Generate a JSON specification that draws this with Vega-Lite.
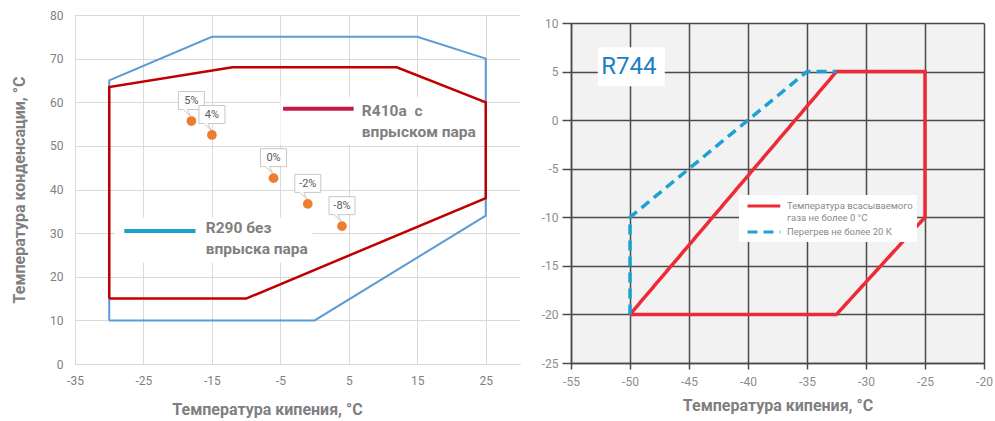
{
  "$schema": "https://vega.github.io/schema/vega-lite/v6.json",
  "padding": {"left": 11, "top": 9, "right": 5, "bottom": 5},
  "spacing": 21,
  "config": {"font": "Roboto", "view": {"stroke": null}},
  "resolve": {
    "scale": {"color": "independent", "strokeDash": "independent"},
    "legend": {"color": "independent", "strokeDash": "independent"}
  },
  "datasets": {
    "left": [
      {"g": "R290", "i": 0, "x": -30, "y": 10},
      {"g": "R290", "i": 1, "x": -30, "y": 65},
      {"g": "R290", "i": 2, "x": -15, "y": 75},
      {"g": "R290", "i": 3, "x": 15, "y": 75},
      {"g": "R290", "i": 4, "x": 25, "y": 70},
      {"g": "R290", "i": 5, "x": 25, "y": 34},
      {"g": "R290", "i": 6, "x": 0, "y": 10},
      {"g": "R290", "i": 7, "x": -30, "y": 10},
      {"g": "R410a", "i": 0, "x": -30, "y": 15},
      {"g": "R410a", "i": 1, "x": -30, "y": 63.5},
      {"g": "R410a", "i": 2, "x": -12, "y": 68},
      {"g": "R410a", "i": 3, "x": 12, "y": 68},
      {"g": "R410a", "i": 4, "x": 25, "y": 60},
      {"g": "R410a", "i": 5, "x": 25, "y": 38},
      {"g": "R410a", "i": 6, "x": -10, "y": 15},
      {"g": "R410a", "i": 7, "x": -30, "y": 15}
    ],
    "lab": [
      {"g": "R410a", "label": "R410a\u00a0 с|впрыском пара", "x1": -4.6, "x2": 5.7, "ly": 58.5, "tx": 6.9, "ty": 59.5, "bx1": -5, "bx2": 24.2, "by1": 61.2, "by2": 50.2},
      {"g": "R290", "label": "R290 без|впрыска пара", "x1": -27.8, "x2": -17.4, "ly": 30.5, "tx": -15.9, "ty": 32.8, "bx1": -29.15, "bx2": -0.35, "by1": 33.5, "by2": 23.2}
    ],
    "pts": [
      {"x": -18, "y": 55.7, "label": "5%"},
      {"x": -15, "y": 52.5, "label": "4%"},
      {"x": -6, "y": 42.6, "label": "0%"},
      {"x": -1, "y": 36.7, "label": "-2%"},
      {"x": 4, "y": 31.6, "label": "-8%"}
    ],
    "right": [
      {"series": "Температура всасываемого|газа не более 0 °C", "i": 0, "x": -50, "y": -20},
      {"series": "Температура всасываемого|газа не более 0 °C", "i": 1, "x": -32.5, "y": 5},
      {"series": "Температура всасываемого|газа не более 0 °C", "i": 2, "x": -25, "y": 5},
      {"series": "Температура всасываемого|газа не более 0 °C", "i": 3, "x": -25, "y": -10},
      {"series": "Температура всасываемого|газа не более 0 °C", "i": 4, "x": -32.5, "y": -20},
      {"series": "Температура всасываемого|газа не более 0 °C", "i": 5, "x": -50, "y": -20},
      {"series": "Перегрев не более 20 К", "i": 0, "x": -50, "y": -20},
      {"series": "Перегрев не более 20 К", "i": 1, "x": -50, "y": -10},
      {"series": "Перегрев не более 20 К", "i": 2, "x": -35, "y": 5},
      {"series": "Перегрев не более 20 К", "i": 3, "x": -32.5, "y": 5}
    ],
    "r744": [{"x": -50.1, "y": 5.5, "label": "R744"}]
  },
  "hconcat": [
    {
      "width": 445,
      "height": 349,
      "encoding": {
        "x": {
          "field": "x", "type": "quantitative",
          "scale": {"domain": [-35, 30], "nice": false, "zero": false},
          "axis": {
            "values": [-35, -25, -15, -5, 5, 15, 25],
            "labelExpr": "'' + datum.value", "labelFlush": false,
            "grid": true, "gridColor": "#d9d9d9", "gridWidth": 1,
            "domainColor": "#d9d9d9", "ticks": false,
            "labelPadding": 11, "labelColor": "#808080", "labelFontSize": 12,
            "title": "Температура кипения, °C", "titleFontSize": 16, "titleFontWeight": "bold",
            "titleColor": "#7f7f7f", "titlePadding": 15, "titleX": 192
          }
        },
        "y": {
          "field": "y", "type": "quantitative",
          "scale": {"domain": [0, 80], "nice": false},
          "axis": {
            "values": [0, 10, 20, 30, 40, 50, 60, 70, 80], "labelFlush": false,
            "grid": true, "gridColor": "#d9d9d9", "gridWidth": 1,
            "domainColor": "#d9d9d9", "ticks": false,
            "labelPadding": 12, "labelColor": "#808080", "labelFontSize": 12,
            "title": "Температура конденсации, °C", "titleFontSize": 16, "titleFontWeight": "bold",
            "titleColor": "#7f7f7f", "titlePadding": 22
          }
        }
      },
      "layer": [
        {
          "data": {"name": "lab"},
          "mark": {"type": "rect", "color": "white", "opacity": 1},
          "encoding": {
            "x": {"field": "bx1", "type": "quantitative"},
            "x2": {"field": "bx2"},
            "y": {"field": "by1", "type": "quantitative"},
            "y2": {"field": "by2"}
          }
        },
        {
          "data": {"name": "left"},
          "transform": [{"filter": "datum.g == 'R290'"}],
          "mark": {"type": "line", "strokeWidth": 2, "color": "#5b9bd5"},
          "encoding": {"order": {"field": "i"}}
        },
        {
          "data": {"name": "left"},
          "transform": [{"filter": "datum.g == 'R410a'"}],
          "mark": {"type": "line", "strokeWidth": 2.5, "color": "#c00000"},
          "encoding": {"order": {"field": "i"}}
        },
        {
          "data": {"name": "lab"},
          "mark": {"type": "rule", "strokeWidth": 4},
          "encoding": {
            "x": {"field": "x1", "type": "quantitative"},
            "x2": {"field": "x2"},
            "y": {"field": "ly", "type": "quantitative"},
            "color": {
              "field": "g", "type": "nominal",
              "scale": {"domain": ["R290", "R410a"], "range": ["#1aa3cc", "#c8174b"]},
              "legend": null
            }
          }
        },
        {
          "data": {"name": "lab"},
          "mark": {
            "type": "text", "align": "left", "baseline": "top", "lineBreak": "|", "lineHeight": 20.7,
            "fontSize": 15.5, "fontWeight": "bold", "color": "#7f7f7f"
          },
          "encoding": {
            "x": {"field": "tx", "type": "quantitative"},
            "y": {"field": "ty", "type": "quantitative"},
            "text": {"field": "label"}
          }
        },
        {
          "data": {"name": "pts"},
          "mark": {
            "type": "point",
            "shape": "M-13,-29.5H13V-11.5H-4L-1,-5L-8,-11.5H-13Z",
            "size": 4, "filled": true, "fill": "white", "stroke": "#c8c8c8", "strokeWidth": 1, "opacity": 1
          }
        },
        {
          "data": {"name": "pts"},
          "mark": {"type": "circle", "size": 95, "color": "#ed7d31", "opacity": 1}
        },
        {
          "data": {"name": "pts"},
          "mark": {"type": "text", "dy": -20, "fontSize": 11, "color": "#595959"},
          "encoding": {"text": {"field": "label"}}
        }
      ]
    },
    {
      "spacing": 0,
      "resolve": {
        "scale": {"color": "independent", "strokeDash": "independent"},
        "legend": {"color": "independent", "strokeDash": "independent"}
      },
      "vconcat": [
        {
          "width": 413,
          "height": 2,
          "data": {"values": []},
          "mark": {"type": "point"}
        },
        {
          "width": 413,
          "height": 340,
          "view": {"fill": "#f2f2f2", "stroke": null},
          "encoding": {
            "x": {
              "field": "x", "type": "quantitative",
              "scale": {"domain": [-55, -20], "nice": false, "zero": false},
              "axis": {
                "values": [-55, -50, -45, -40, -35, -30, -25, -20],
                "labelExpr": "'' + datum.value", "labelFlush": false,
                "grid": true, "gridColor": "#4a4a4a", "gridWidth": 1.5,
                "domainColor": "#4a4a4a", "domainWidth": 1.5,
                "tickColor": "#4a4a4a", "tickSize": 6, "tickWidth": 1.5,
                "labelPadding": 7, "labelColor": "#8c8c8c", "labelFontSize": 12,
                "title": "Температура кипения, °C", "titleFontSize": 16, "titleFontWeight": "bold",
                "titleColor": "#7f7f7f", "titlePadding": 10
              }
            },
            "y": {
              "field": "y", "type": "quantitative",
              "scale": {"domain": [-25, 10], "nice": false, "zero": false},
              "axis": {
                "values": [-25, -20, -15, -10, -5, 0, 5, 10],
                "labelExpr": "'' + datum.value", "labelFlush": false,
                "grid": true, "gridColor": "#4a4a4a", "gridWidth": 1.5,
                "domainColor": "#4a4a4a", "domainWidth": 1.5,
                "tickColor": "#4a4a4a", "tickSize": 9, "tickWidth": 1.5,
                "labelPadding": 4, "labelColor": "#8c8c8c", "labelFontSize": 12,
                "title": null
              }
            }
          },
          "layer": [
            {
              "data": {"name": "right"},
              "mark": {"type": "line", "strokeWidth": 3.5},
              "encoding": {
                "order": {"field": "i"},
                "color": {
                  "field": "series", "type": "nominal",
                  "scale": {"domain": ["Температура всасываемого|газа не более 0 °C", "Перегрев не более 20 К"], "range": ["#ee2a36", "#1da1d4"]},
                  "legend": {
                    "orient": "none", "legendX": 168, "legendY": 172, "title": null,
                    "symbolType": "M-0.45,0H5.5", "symbolSize": 121, "symbolStrokeWidth": 3,
                    "labelExpr": "split(datum.label, '|')", "labelBaseline": "middle",
                    "labelFontSize": 9.5, "labelColor": "#8a8a8a",
                    "labelLimit": 0, "labelOffset": 30, "fillColor": "white", "padding": 4, "rowPadding": 3
                  }
                },
                "strokeDash": {
                  "field": "series", "type": "nominal",
                  "scale": {"domain": ["Температура всасываемого|газа не более 0 °C", "Перегрев не более 20 К"], "range": [[1, 0], [10, 6]]},
                  "legend": {
                    "orient": "none", "legendX": 168, "legendY": 172, "title": null,
                    "symbolType": "M-0.45,0H5.5", "symbolSize": 121, "symbolStrokeWidth": 3,
                    "labelExpr": "split(datum.label, '|')", "labelBaseline": "middle",
                    "labelFontSize": 9.5, "labelColor": "#8a8a8a",
                    "labelLimit": 0, "labelOffset": 30, "fillColor": "white", "padding": 4, "rowPadding": 3
                  }
                }
              }
            },
            {
              "data": {"name": "r744"},
              "mark": {
                "type": "point", "shape": "M-31,-19.5H36V19.5H-31Z",
                "size": 4, "filled": true, "fill": "white", "strokeWidth": 0, "opacity": 1
              }
            },
            {
              "data": {"name": "r744"},
              "mark": {"type": "text", "fontSize": 24, "color": "#1b7fc4"},
              "encoding": {"text": {"field": "label"}}
            }
          ]
        }
      ]
    }
  ]
}
